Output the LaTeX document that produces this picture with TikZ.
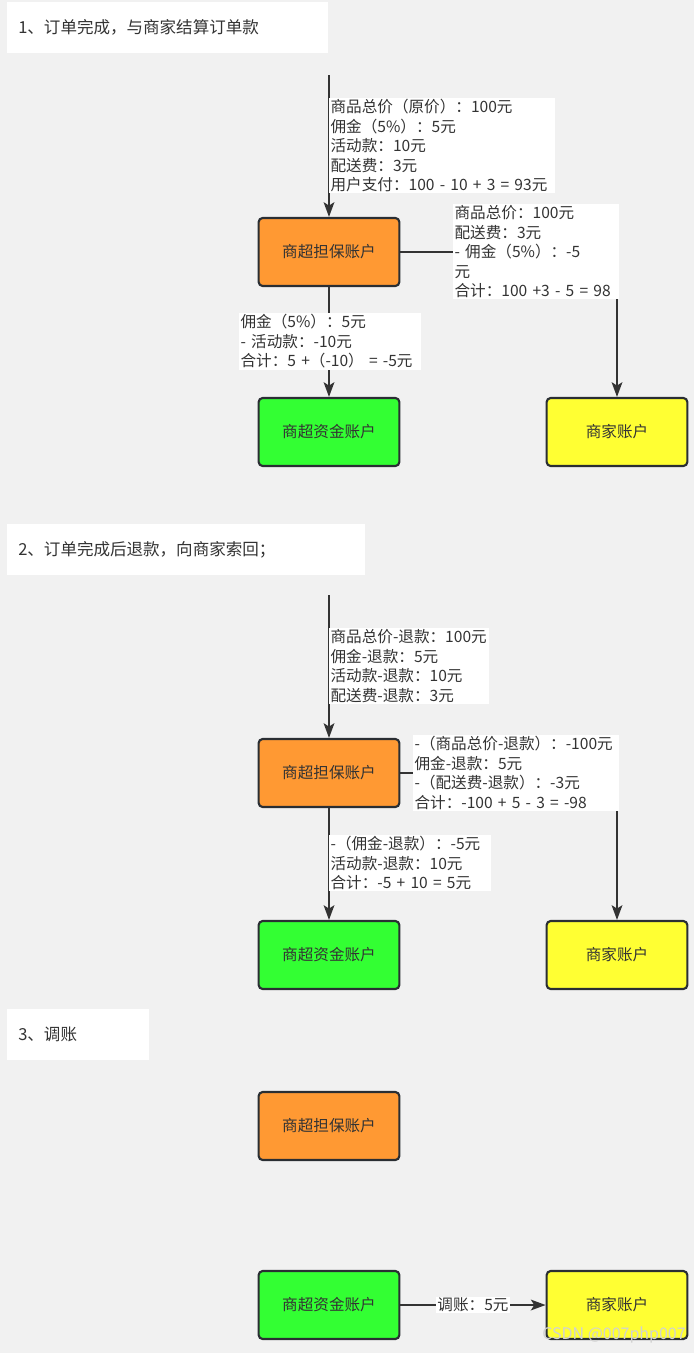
\documentclass[tikz,border=0pt]{standalone}
\usepackage{fontspec}
\setmainfont{Noto Sans CJK SC}
\usetikzlibrary{arrows.meta,positioning}
\definecolor{bgGray}{HTML}{F1F1F1}
\definecolor{lineGray}{HTML}{333333}
\definecolor{edgeDark}{HTML}{2A2E33}
\definecolor{textGray}{HTML}{333333}
\definecolor{guarOrange}{HTML}{FF9933}
\definecolor{fundGreen}{HTML}{33FF33}
\definecolor{merchYellow}{HTML}{FFFF33}

\begin{document}
\begin{tikzpicture}[
		x=0.75pt, y=-0.75pt,
		font=\fontsize{11.7}{14.6}\selectfont,
		arrow/.style={-{Stealth[length=11pt,width=8pt,inset=2.5pt]}, line width=1.6pt, draw=lineGray},
		account/.style={draw=edgeDark, line width=1.6pt, rounded corners=3pt, minimum width=105.5pt, minimum height=51pt, text=textGray},
		note/.style={fill=white, align=left, anchor=north west, inner sep=1pt, text width=#1, text=textGray},
		title/.style={fill=white, anchor=north west, minimum height=38.25pt, inner xsep=8.25pt, text width=#1, text=textGray, font=\fontsize{12.4}{15}\selectfont},
	]
		\fill[bgGray] (0,0) rectangle (694,1353);
		
		% 1
		\node (t1) at (7,2) [title=224pt] {1、订单完成，与商家结算订单款};
		\coordinate (in1) at (329,75);
		\node (guar1) at (329,252) [account, fill=guarOrange] {商超担保账户};
		\node (fund1) at (329,432) [account, fill=fundGreen] {商超资金账户};
		\node (merch1) at (617,432) [account, fill=merchYellow] {商家账户};
		
		\draw[arrow] (in1) -- (guar1.north);
		\draw[arrow] (guar1.east) -| (merch1.north);
		\draw[arrow] (guar1.south) -- (fund1.north);
		
		\node (n1a) at (329,98) [note=167pt] {商品总价（原价）：100元\\佣金（5\%）：5元\\活动款：10元\\配送费：3元\\用户支付：100 - 10 + 3 = 93元};
		\node (n1b) at (453,204) [note=122.5pt] {商品总价：100元\\配送费：3元\\- 佣金（5\%）：-5\\元\\合计：100 +3 - 5 = 98};
		\node (n1c) at (239,313) [note=134pt] {佣金（5\%）：5元\\- 活动款：-10元\\合计：5 +（-10） = -5元};
		
		% 2
		\node (t2) at (7,524) [title=252pt] {2、订单完成后退款，向商家索回；};
		\coordinate (in2) at (329,595);
		\node (guar2) at (329,773) [account, fill=guarOrange] {商超担保账户};
		\node (fund2) at (329,955) [account, fill=fundGreen] {商超资金账户};
		\node (merch2) at (617,955) [account, fill=merchYellow] {商家账户};
		
		\draw[arrow] (in2) -- (guar2.north);
		\draw[arrow] (guar2.east) -| (merch2.north);
		\draw[arrow] (guar2.south) -- (fund2.north);
		
		\node (n2a) at (329,628) [note=118pt] {商品总价-退款：100元\\佣金-退款：5元\\活动款-退款：10元\\配送费-退款：3元};
		\node (n2b) at (413,735) [note=152pt] {-（商品总价-退款）：-100元\\佣金-退款：5元\\-（配送费-退款）：-3元\\合计：-100 + 5 - 3 = -98};
		\node (n2c) at (329,835) [note=119pt] {-（佣金-退款）：-5元\\活动款-退款：10元\\合计：-5 + 10 = 5元};
		
		% 3
		\node (t3) at (7,1009) [title=90pt] {3、调账};
		\node (guar3) at (329,1126) [account, fill=guarOrange] {商超担保账户};
		\node (fund3) at (329,1305) [account, fill=fundGreen] {商超资金账户};
		\node (merch3) at (617,1305) [account, fill=merchYellow] {商家账户};
		
		\draw[arrow] (fund3) -- node[fill=white, inner sep=1pt, text=textGray] {调账：5元} (merch3);
		
		\node (mark) at (614,1335) [text=gray!35, font=\fontsize{12}{12}\selectfont] {CSDN @007php007};
	\end{tikzpicture}
\end{document}
